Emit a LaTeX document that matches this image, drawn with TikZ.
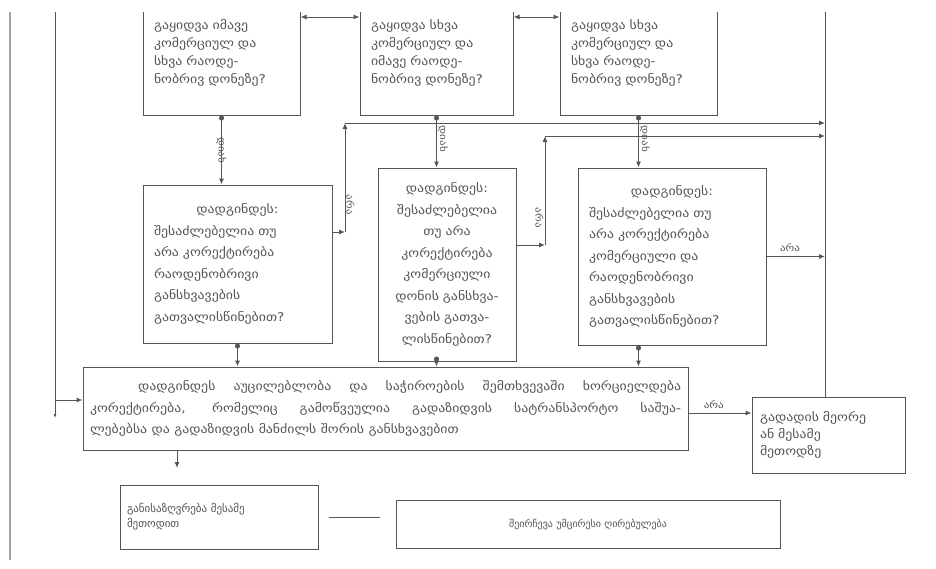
\documentclass[tikz,border=0pt]{standalone}
\usepackage{fontspec}
\newfontfamily\geo[FakeStretch=1.15]{DejaVu Sans}
\newfontfamily\geoplain{DejaVu Sans}
\usetikzlibrary{arrows.meta,calc}
\definecolor{ink}{RGB}{85,85,85}
\definecolor{pageedge}{RGB}{160,160,160}
\begin{document}
\begin{tikzpicture}[x=1pt,y=-1pt,
  box/.style={draw=ink,line width=1pt,inner sep=0pt,rectangle,text=ink},
  ftop/.style={font=\geo\fontsize{12}{18}\selectfont},
  fmid/.style={font=\geo\fontsize{12}{21.5}\selectfont},
  fbig/.style={font=\geo\fontsize{12}{21.5}\selectfont},
  fe/.style={font=\geo\fontsize{12}{17}\selectfont},
  ff/.style={font=\geoplain\fontsize{11}{15}\selectfont},
  fg/.style={font=\geoplain\fontsize{10}{16}\selectfont},
  arr/.style={draw=ink,line width=1pt,-{Latex[length=6pt,width=5pt]}},
  dotarr/.style={draw=ink,line width=1pt,{Circle[length=5pt,width=5pt]}-{Latex[length=6pt,width=5pt]}},
  dblarr/.style={draw=ink,line width=1pt,{Latex[length=6pt,width=5pt]}-{Latex[length=6pt,width=5pt]}},
  plain/.style={draw=ink,line width=1pt},
  lbl/.style={font=\geo\fontsize{9.5}{9.5}\selectfont,text=ink,inner sep=1pt}]
\useasboundingbox (0,0) rectangle (936,568);
\fill[white] (0,0) rectangle (936,568);
\draw[pageedge,line width=2.5pt] (10,12) -- (10,560);
\begin{scope}
\clip (0,12) rectangle (936,568);
% top row
\node[box,ftop,minimum width=157,minimum height=125,text width=135,align=left] (A) at (221.5,52.5)
  {გაყიდვა იმავე\\კომერციულ და\\სხვა რაოდე-\\ნობრივ დონეზე?};
\node[box,ftop,minimum width=153,minimum height=125,text width=131,align=left] (B) at (436.5,52.5)
  {გაყიდვა სხვა\\კომერციულ და\\იმავე რაოდე-\\ნობრივ დონეზე?};
\node[box,ftop,minimum width=157,minimum height=125,text width=135,align=left] (C) at (638.5,52.5)
  {გაყიდვა სხვა\\კომერციულ და\\სხვა რაოდე-\\ნობრივ დონეზე?};
% middle row
\node[box,fmid,minimum width=189,minimum height=158,text width=167,align=left] (M1) at (237.5,264)
  {\hfill დადგინდეს:\hfill\null\\შესაძლებელია თუ\\არა კორექტირება\\რაოდენობრივი\\განსხვავების\\გათვალისწინებით?};
\node[box,fmid,minimum width=138,minimum height=193,text width=128,align=center] (M2) at (447,264.5)
  {დადგინდეს:\\შესაძლებელია\\თუ არა\\კორექტირება\\კომერციული\\დონის განსხვა-\\ვების გათვა-\\ლისწინებით?};
\node[box,fmid,minimum width=188,minimum height=177,text width=166,align=left] (M3) at (672,256.5)
  {\hfill დადგინდეს:\hfill\null\\შესაძლებელია თუ\\არა კორექტირება\\კომერციული და\\რაოდენობრივი\\განსხვავების\\გათვალისწინებით?};
% big box
\node[box,fbig,minimum width=605,minimum height=83,text width=591,align=justify] (D) at (385.5,408.5)
  {\hspace*{48pt}დადგინდეს აუცილებლობა და საჭიროების შემთხვევაში ხორციელდება\linebreak
   კორექტირება, რომელიც გამოწვეულია გადაზიდვის სატრანსპორტო საშუა-\linebreak
   ლებებსა და გადაზიდვის მანძილს შორის განსხვავებით};
\node[box,fe,minimum width=153,minimum height=76,text width=137,align=left] (E) at (828.5,435)
  {გადადის მეორე\\ან მესამე\\მეთოდზე};
\node[box,ff,minimum width=198,minimum height=64,text width=184,align=left] (F) at (219,517)
  {განისაზღვრება მესამე\\მეთოდით};
\node[box,fg,minimum width=384,minimum height=48,text width=368,align=center] (G) at (588,524)
  {შეირჩევა უმცირესი ღირებულება};
% coordinates
\coordinate (R) at (825,-20);
\coordinate (L) at (55,-20);
\coordinate (Lb) at (55,418);
\coordinate (la) at (55,400);
\coordinate (ab) at (330,17);
\coordinate (bc) at (536,17);
\coordinate (c1) at (345,232);
\coordinate (c1t) at (345,123);
\coordinate (c2) at (545,245);
\coordinate (c2t) at (545,136);
\coordinate (de) at (720,413);
\coordinate (df) at (177,468);
% top double arrows
\draw[dblarr] (A.east |- ab) -- (B.west |- ab);
\draw[dblarr] (B.east |- bc) -- (C.west |- bc);
% yes arrows
\draw[dotarr] (A.south) -- (A.south |- M1.north)
  node[lbl,pos=0.5,rotate=-90] {დიახ};
\draw[dotarr] (B.south) -- (B.south |- M2.north)
  node[lbl,pos=0.45,rotate=-90,anchor=south] {დიახ};
\draw[dotarr] (C.south) -- (C.south |- M3.north)
  node[lbl,pos=0.45,rotate=-90,anchor=south] {დიახ};
% down to D
\draw[dotarr] (M1.south) -- (M1.south |- D.north);
\draw[dotarr] (B.south |- M2.south) -- (B.south |- D.north);
\draw[dotarr] (C.south |- M3.south) -- (C.south |- D.north);
% no paths
\draw[arr] (M1.east |- c1) -- (c1);
\draw[arr] (c1) -- (c1t) node[lbl,pos=0.25,rotate=-90,anchor=south] {არა};
\draw[arr] (c1t) -- (c1t -| R);
\draw[arr] (M2.east |- c2) -- (c2);
\draw[arr] (c2) -- (c2t) node[lbl,pos=0.25,rotate=-90,anchor=north] {არა};
\draw[arr] (c2t) -- (c2t -| R);
\draw[arr] (M3.east) -- (M3.east -| R) node[lbl,pos=0.4,above=3pt] {არა};
% right line
\draw[plain] (R) -- (R |- E.north);
% D to E
\draw[arr] (D.east |- de) -- (E.west |- de) node[lbl,pos=0.4,above=3pt] {არა};
% left line
\draw[plain,-{Latex[length=4pt,width=3pt]}] (L) -- (Lb);
\draw[arr] (la) -- (D.west |- la);
% D to F
\draw[arr] (D.south -| df) -- (df);
% F - G
\draw[plain] ([xshift=10pt]F.east) -- ([xshift=-16pt]F.east -| G.west);
\end{scope}
\end{tikzpicture}
\end{document}
